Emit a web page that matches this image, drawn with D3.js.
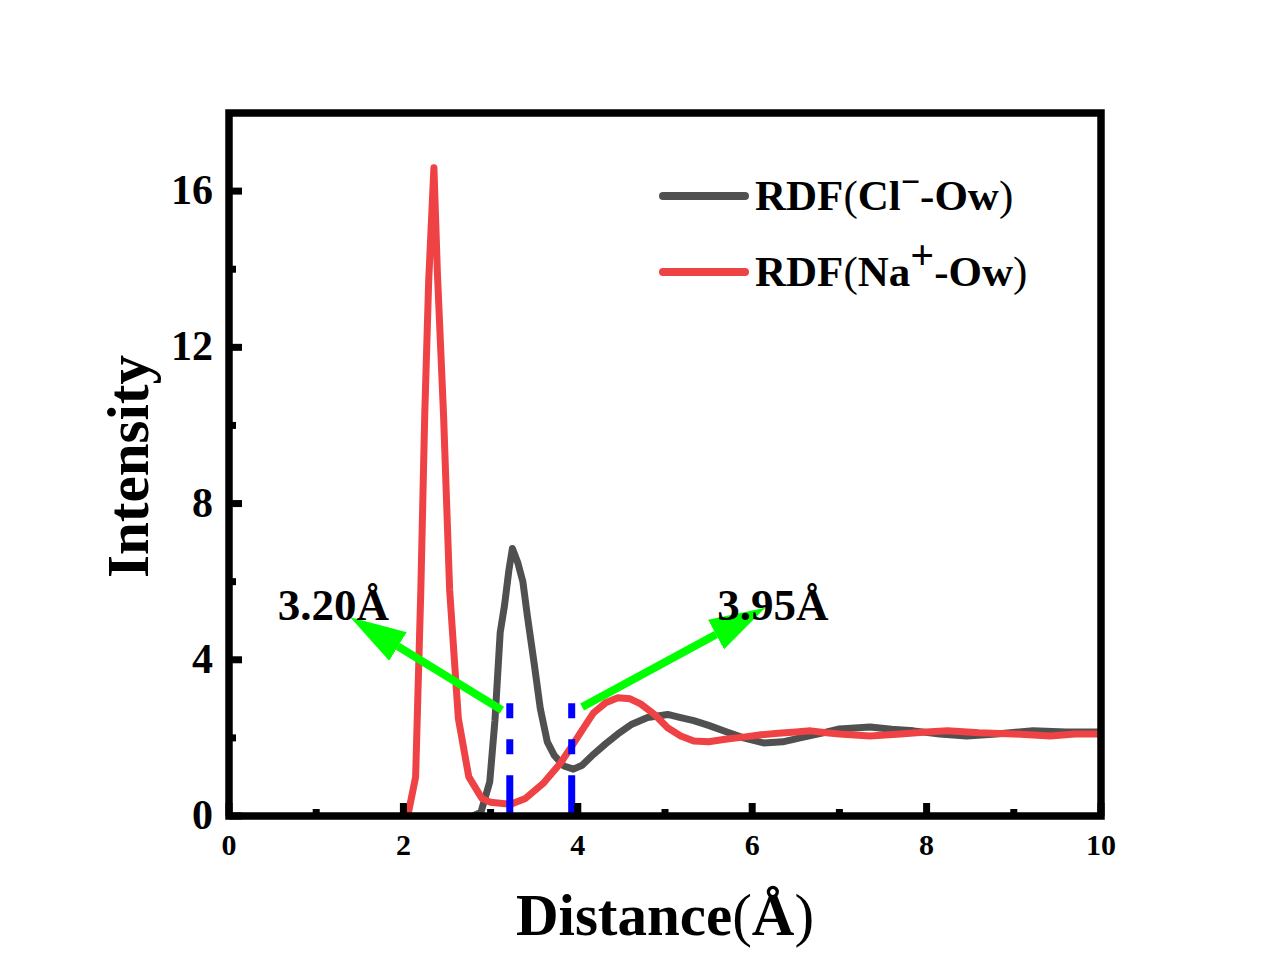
<!DOCTYPE html>
<html><head><meta charset="utf-8">
<script src="https://cdn.jsdelivr.net/npm/d3@7"></script>
<style>html,body{margin:0;padding:0;background:#fff;}svg{display:block;}</style>
</head><body>
<script>
// ---- data ----
const xTicks = [0, 2, 4, 6, 8, 10];
const yTicks = [0, 4, 8, 12, 16];
const xMinor = [1, 3, 5, 7, 9];
const yMinor = [2, 6, 10, 14];
const clX = [2.8, 2.89, 2.99, 3.05, 3.11, 3.16, 3.21, 3.25, 3.31, 3.37, 3.42, 3.5, 3.57, 3.65, 3.73, 3.84, 3.95, 4.05, 4.18, 4.32, 4.46, 4.62, 4.8, 5.03, 5.18, 5.33, 5.5, 5.71, 5.9, 6.13, 6.35, 6.55, 6.8, 7.0, 7.35, 7.6, 7.85, 8.15, 8.46, 8.8, 9.22, 9.6, 10.0];
const clY = [0, 0.1, 0.87, 2.45, 4.7, 5.4, 6.3, 6.85, 6.5, 6.0, 5.15, 3.9, 2.75, 1.9, 1.55, 1.28, 1.2, 1.3, 1.58, 1.85, 2.1, 2.35, 2.52, 2.6, 2.52, 2.44, 2.32, 2.15, 2.0, 1.87, 1.9, 2.0, 2.12, 2.23, 2.28, 2.22, 2.18, 2.1, 2.05, 2.1, 2.18, 2.15, 2.15];
const naX = [2.05, 2.14, 2.2, 2.245, 2.29, 2.35, 2.39, 2.46, 2.53, 2.63, 2.75, 2.9, 3.0, 3.23, 3.4, 3.61, 3.8, 3.92, 4.05, 4.18, 4.32, 4.46, 4.6, 4.72, 4.88, 5.03, 5.18, 5.33, 5.5, 5.71, 5.9, 6.1, 6.3, 6.5, 6.67, 6.85, 7.0, 7.35, 7.7, 8.0, 8.24, 8.6, 9.0, 9.42, 9.7, 10.0];
const naY = [0, 1.0, 5.8, 10.3, 13.7, 16.6, 13.9, 10.3, 5.8, 2.5, 1.0, 0.45, 0.35, 0.3, 0.45, 0.85, 1.35, 1.75, 2.2, 2.64, 2.9, 3.03, 3.0, 2.87, 2.6, 2.26, 2.05, 1.92, 1.9, 1.97, 2.02, 2.08, 2.12, 2.15, 2.18, 2.13, 2.1, 2.05, 2.1, 2.15, 2.18, 2.13, 2.1, 2.05, 2.1, 2.1];
const cutoffs = [3.22, 3.93];
const cutoffTop = 2.89;
const labels = ["3.20Å", "3.95Å"];
const labelPos = [[0.56, 5.02], [5.6, 5.02]];
const arrows = [[[3.13, 2.71], [1.39, 5.09]], [[4.05, 2.79], [6.15, 5.33]]];

// ---- layout ----
const W = 1280, H = 979;
const L = 229, R = 1101, T = 113, B = 816;
const svg = d3.select("body").append("svg").attr("width", W).attr("height", H);
const x = d3.scaleLinear().domain([0, 10]).range([L, R]);
const y = d3.scaleLinear().domain([0, 18]).range([B, T]);
const serif = "'Liberation Serif','Times New Roman',serif";

// lines
const line = d3.line().x(d => x(d[0])).y(d => y(d[1]));
const clData = clX.map((v, i) => [v, clY[i]]);
const naData = naX.map((v, i) => [v, naY[i]]);
svg.append("path").datum(clData).attr("d", line).attr("fill", "none")
  .attr("stroke", "#505050").attr("stroke-width", 7).attr("stroke-linejoin", "round");
svg.append("path").datum(naData).attr("d", line).attr("fill", "none")
  .attr("stroke", "#ef4244").attr("stroke-width", 7).attr("stroke-linejoin", "round");

// cutoff dashed lines
cutoffs.forEach(c => {
  svg.append("line").attr("x1", x(c)).attr("x2", x(c)).attr("y1", y(cutoffTop)).attr("y2", y(0))
    .attr("stroke", "#0000ff").attr("stroke-width", 7).attr("stroke-dasharray", "15,21,15,21,60");
});

// arrows
svg.append("defs").append("marker").attr("id", "ah").attr("viewBox", "0 0 10 6")
  .attr("refX", 0).attr("refY", 3).attr("markerWidth", 7).attr("markerHeight", 4.2)
  .attr("markerUnits", "strokeWidth").attr("orient", "auto")
  .append("path").attr("d", "M0,0 L10,3 L0,6 Z").attr("fill", "#00ff00");
arrows.forEach(a => {
  const x1 = x(a[0][0]), y1 = y(a[0][1]), x2 = x(a[1][0]), y2 = y(a[1][1]);
  const len = Math.hypot(x2 - x1, y2 - y1), hl = 56;
  const ex = x2 - (x2 - x1) / len * hl, ey = y2 - (y2 - y1) / len * hl;
  svg.append("line").attr("x1", x1).attr("y1", y1).attr("x2", ex).attr("y2", ey)
    .attr("stroke", "#00ff00").attr("stroke-width", 8).attr("marker-end", "url(#ah)");
});

// annotation labels
labels.forEach((t, i) => {
  svg.append("text").attr("x", x(labelPos[i][0])).attr("y", y(labelPos[i][1]))
    .attr("font-family", serif).attr("font-weight", "bold").attr("font-size", 45).text(t);
});

// frame
svg.append("rect").attr("x", L).attr("y", T).attr("width", R - L).attr("height", B - T)
  .attr("fill", "none").attr("stroke", "#000").attr("stroke-width", 7.5);

// ticks
const tk = svg.append("g").attr("stroke", "#000").attr("stroke-width", 7);
xTicks.forEach(v => tk.append("line").attr("x1", x(v)).attr("x2", x(v)).attr("y1", B).attr("y2", B - 13));
xMinor.forEach(v => tk.append("line").attr("x1", x(v)).attr("x2", x(v)).attr("y1", B).attr("y2", B - 7));
yTicks.forEach(v => tk.append("line").attr("y1", y(v)).attr("y2", y(v)).attr("x1", L).attr("x2", L + 13));
yMinor.forEach(v => tk.append("line").attr("y1", y(v)).attr("y2", y(v)).attr("x1", L).attr("x2", L + 7));

// tick labels
xTicks.forEach(v => svg.append("text").attr("x", x(v)).attr("y", 855).attr("text-anchor", "middle")
  .attr("font-family", serif).attr("font-weight", "bold").attr("font-size", 30).text(v));
yTicks.forEach(v => svg.append("text").attr("x", 213).attr("y", y(v) + 13).attr("text-anchor", "end")
  .attr("font-family", serif).attr("font-weight", "bold").attr("font-size", 42).text(v));

// axis titles
svg.append("text").attr("transform", `translate(148,${(T + B) / 2 + 2}) rotate(-90)`)
  .attr("text-anchor", "middle").attr("font-family", serif).attr("font-weight", "bold")
  .attr("font-size", 59).text("Intensity");
const xt = svg.append("text").attr("x", 665).attr("y", 935).attr("text-anchor", "middle")
  .attr("font-family", serif).attr("font-weight", "bold").attr("font-size", 59);
xt.append("tspan").text("Distance");
xt.append("tspan").attr("font-weight", "normal").text("(");
xt.append("tspan").text("Å");
xt.append("tspan").attr("font-weight", "normal").text(")");

// legend
const leg = [
  { c: "#505050", y: 196, ion: "Cl", sup: "−", supSize: 34 },
  { c: "#ef4244", y: 272, ion: "Na", sup: "+", supSize: 42 }
];
leg.forEach(d => {
  svg.append("line").attr("x1", 663).attr("x2", 745).attr("y1", d.y).attr("y2", d.y)
    .attr("stroke", d.c).attr("stroke-width", 8).attr("stroke-linecap", "round");
  const t = svg.append("text").attr("x", 755).attr("y", d.y + 14)
    .attr("font-family", serif).attr("font-weight", "bold").attr("font-size", 43);
  t.append("tspan").text("RDF");
  t.append("tspan").attr("font-weight", "normal").text("(");
  t.append("tspan").text(d.ion);
  t.append("tspan").attr("dy", -17).attr("font-size", d.supSize).text(d.sup);
  t.append("tspan").attr("dy", 17).text("-Ow");
  t.append("tspan").attr("font-weight", "normal").text(")");
});
</script>
</body></html>
